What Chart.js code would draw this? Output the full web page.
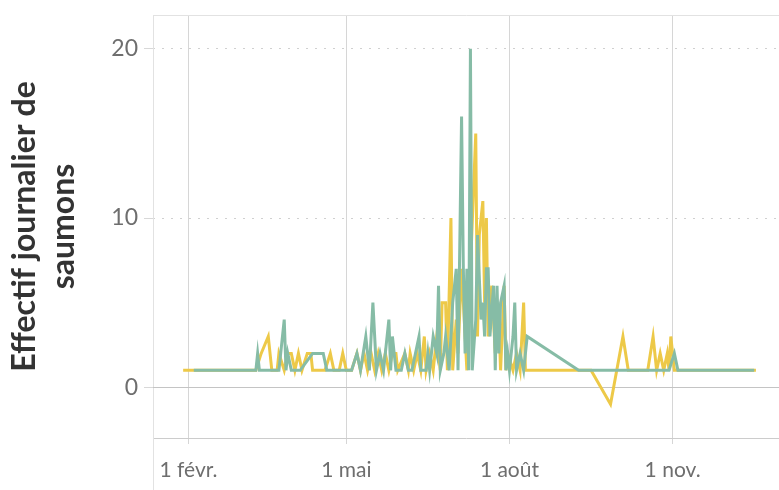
<!DOCTYPE html>
<html>
<head>
<meta charset="utf-8">
<script src="https://cdn.jsdelivr.net/npm/chart.js@4.4.0/dist/chart.umd.min.js"></script>
<style>
  body { margin: 0; background: #fff; }
</style>
</head>
<body>
<canvas id="chart" width="779" height="490"></canvas>
<script>
// jour de l'année (1 = 1 janv.) et effectif journalier
const yellowDays = [29, 70, 73, 77, 79, 82, 83, 86, 88, 90, 92, 94, 96, 99, 101, 102, 109, 112, 114, 117, 119, 121,
  124, 127, 129, 131, 133, 135, 137, 139, 141, 143, 145, 147, 149, 150, 154, 156, 157, 159, 161, 163, 165, 166,
  168, 170, 172, 174, 175, 177, 178, 180, 181, 183, 184, 186, 188, 189, 191, 194, 195, 196, 198, 199, 200, 201,
  203, 205, 207, 208, 210, 211, 212, 215, 217, 219, 221, 222, 259, 270, 277, 280, 291, 294, 296, 298, 300, 302,
  303, 304, 306, 352];
const yellowCounts = [1, 1, 2, 3, 1, 1, 2, 1, 2, 2, 1, 2, 1, 2, 2, 1, 1, 2, 1, 1, 2, 1,
  1, 2, 1, 2, 1, 2, 1, 2, 1, 2, 1, 2, 2, 1, 2, 1, 2, 1, 2, 1, 3, 1,
  2, 1, 3, 1, 5, 5, 1, 10, 1, 4, 2, 7, 3, 1, 7, 15, 3, 9, 11, 5, 10, 3,
  6, 2, 4, 1, 6, 1, 2, 1, 2, 1, 5, 1, 1, -1, 3, 1, 1, 3, 1, 2, 1, 2,
  1, 3, 1, 1];

const greenDays = [35, 70, 71, 72, 83, 84, 86, 87, 88, 90, 95, 102, 108, 110, 118, 121, 124, 127, 129, 132, 134,
  136, 138, 140, 142, 145, 146, 147, 149, 152, 154, 156, 158, 162, 163, 166, 167, 168, 170, 172, 173, 174, 176,
  177, 179, 181, 183, 184, 186, 187, 188, 189, 190, 191, 192, 194, 195, 197, 198, 199, 200, 201, 202, 204, 205,
  206, 207, 208, 210, 211, 212, 213, 215, 216, 217, 219, 221, 223, 252, 303, 306, 308, 351];
const greenCounts = [1, 1, 2, 1, 1, 2, 4, 1, 2, 1, 1, 2, 2, 1, 1, 1, 1, 2, 1, 3, 1,
  5, 1, 2, 1, 4, 1, 3, 1, 1, 2, 1, 1, 3, 1, 1, 2, 1, 3, 2, 6, 1, 2,
  3, 1, 5, 7, 1, 16, 7, 2, 7, 1, 20, 1, 4, 9, 4, 5, 3, 7, 7, 3, 6, 1,
  6, 2, 5, 6, 1, 2, 1, 3, 5, 1, 2, 1, 3, 1, 1, 2, 1, 1];

const tickDays = [32, 121, 213, 305];
const tickLabels = ['1 févr.', '1 mai', '1 août', '1 nov.'];
const yTicks = [0, 10, 20];

function toPoints(days, counts) {
    return days.map(function (d, i) { return {x: d, y: counts[i]}; });
}

const framePlugin = {
    id: 'frame',
    beforeDatasetsDraw(chart) {
        const ctx = chart.ctx;
        const a = chart.chartArea;
        const y0 = Math.round(chart.scales.y.getPixelForValue(0)) + 0.5;
        ctx.save();
        ctx.lineWidth = 1;
        ctx.strokeStyle = '#e2e2e2';
        ctx.beginPath();
        ctx.moveTo(a.left + 0.5, a.top + 0.5);
        ctx.lineTo(a.right, a.top + 0.5);
        ctx.moveTo(a.left + 0.5, a.top);
        ctx.lineTo(a.left + 0.5, chart.height);
        ctx.stroke();
        ctx.strokeStyle = '#c4c4c4';
        ctx.beginPath();
        ctx.moveTo(a.left, y0);
        ctx.lineTo(a.right, y0);
        ctx.stroke();
        ctx.restore();
    }
};

new Chart(document.getElementById('chart'), {
    type: 'line',
    data: {
        datasets: [
            {
                label: 'Série 2',
                data: toPoints(greenDays, greenCounts),
                borderColor: '#86BCA6',
                borderWidth: 3
            },
            {
                label: 'Série 1',
                data: toPoints(yellowDays, yellowCounts),
                borderColor: '#EDC948',
                borderWidth: 3
            }
        ]
    },
    options: {
        responsive: false,
        animation: false,
        layout: {padding: {top: 15, right: 0, bottom: 0, left: 0}},
        elements: {point: {radius: 0}, line: {tension: 0}},
        plugins: {legend: {display: false}, tooltip: {enabled: false}},
        scales: {
            x: {
                type: 'linear',
                min: 12,
                max: 365,
                afterFit: function (scale) {
                    scale.height = 52;
                    scale.paddingLeft = 0;
                    scale.paddingRight = 0;
                },
                afterBuildTicks: function (scale) {
                    scale.ticks = tickDays.map(function (v) { return {value: v}; });
                },
                grid: {color: '#d6d6d6', tickLength: 6, tickColor: '#d6d6d6'},
                border: {display: true, color: '#cccccc'},
                ticks: {
                    autoSkip: false,
                    maxRotation: 0,
                    padding: 14,
                    color: '#6e6e6e',
                    font: {family: 'Lato', size: 21},
                    callback: function (v) { return tickLabels[tickDays.indexOf(v)]; }
                }
            },
            y: {
                min: -3,
                max: 22,
                afterFit: function (scale) {
                    scale.width = 153;
                    scale.paddingTop = 0;
                    scale.paddingBottom = 0;
                },
                afterBuildTicks: function (scale) {
                    scale.ticks = yTicks.map(function (v) { return {value: v}; });
                },
                grid: {color: '#d0d0d0', tickLength: 9, tickColor: '#d8d8d8'},
                border: {display: false, dash: [2, 7]},
                ticks: {
                    padding: 6,
                    color: '#6e6e6e',
                    font: {family: 'Lato', size: 23}
                },
                title: {
                    display: true,
                    text: ['Effectif journalier de', 'saumons'],
                    color: '#333333',
                    font: {family: 'Lato', size: 32, weight: 'bold', lineHeight: 1.22},
                    padding: {top: 5, bottom: 0}
                }
            }
        }
    },
    plugins: [framePlugin]
});
</script>
</body>
</html>
